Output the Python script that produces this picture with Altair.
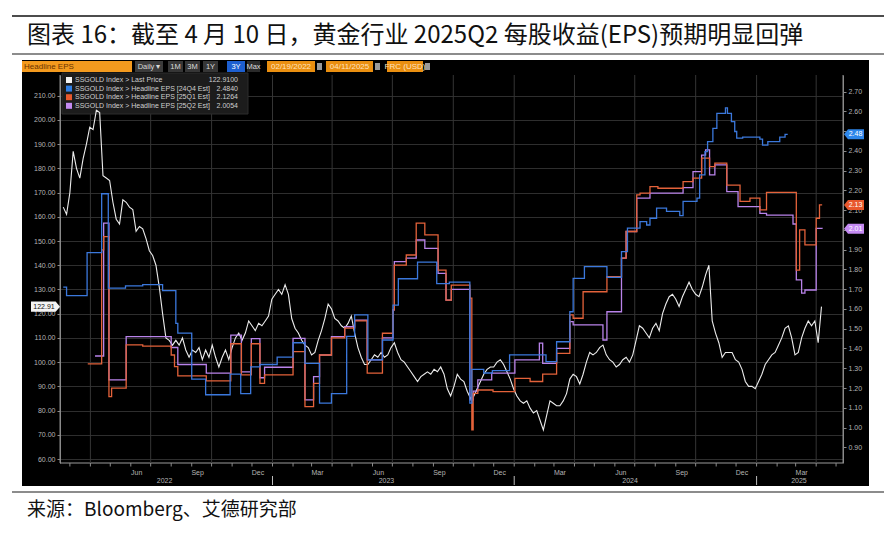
import altair as alt
import pandas as pd

# ---------------- data ----------------
TITLE = "图表 16：截至 4 月 10 日，黄金行业 2025Q2 每股收益(EPS)预期明显回弹"
SOURCE = "来源：Bloomberg、艾德研究部"

# SSGOLD Index last price, read every 5 days from 2022-02-19
price_values = [
    164, 161, 170, 187, 180, 176, 184, 190, 197, 196, 204, 203, 177, 176, 175, 166, 159, 157, 167, 166,
    164, 163, 154, 156, 155, 151, 146, 144, 140, 131, 120, 110, 109, 107, 109, 107, 110, 105, 102, 105,
    104, 106, 101, 105, 102, 107, 102, 98, 102, 105, 101, 106, 110, 112, 109, 112, 117, 115, 113, 116,
    115, 117, 119, 126, 128, 130, 128, 132, 128,
    118, 114, 112, 109, 107, 106, 103, 104, 109, 113, 118, 124, 122, 118, 117, 115, 114, 116, 119, 112,
    106, 102, 99, 99, 101, 103, 102, 104, 102, 103, 106, 108, 104, 101, 100, 98, 96, 94, 92, 94,
    95, 96, 95, 97, 96, 98, 95, 89, 86, 90, 95, 93, 92, 88, 85, 86, 89, 92, 95, 97,
    98, 98, 100, 101, 99, 96, 93, 89, 86, 84, 83, 84, 81, 79, 80, 76, 72, 78, 84, 83, 82,
    82, 84, 87, 93, 95, 94, 91, 95, 100, 104, 103, 104, 106, 107, 103, 101, 100, 98, 99, 101,
    102, 100, 103, 109, 115, 114, 112, 110, 114, 116, 113, 120, 124, 127, 128, 126, 123, 127, 130, 133,
    130, 128, 127, 131, 136, 140, 117, 112, 108, 102, 104, 104, 104, 101, 100, 97, 92, 90, 90, 89,
    92, 95, 99, 101, 103, 104, 107, 110, 114, 115, 110, 103, 104, 110, 114, 117, 115, 117, 108, 122.91,
]
price_dates = pd.date_range("2022-02-19", periods=len(price_values), freq="5D")

# Headline EPS [24Q4 Est]
blue_dates = [
    "2022-02-19", "2022-02-24", "2022-03-27", "2022-04-18", "2022-04-28", "2022-05-24", "2022-06-19",
    "2022-07-19", "2022-08-08", "2022-08-11", "2022-09-01", "2022-09-22", "2022-10-29", "2022-11-14",
    "2022-11-29", "2022-12-13", "2023-01-08", "2023-02-01", "2023-02-19", "2023-03-13", "2023-03-31",
    "2023-04-23", "2023-05-05", "2023-05-25", "2023-06-16", "2023-07-02", "2023-07-10", "2023-08-08",
    "2023-09-06", "2023-09-25", "2023-10-26", "2023-10-29", "2023-11-16", "2023-11-29", "2023-12-25",
    "2024-02-18", "2024-03-05", "2024-03-25", "2024-03-30", "2024-04-16", "2024-05-20", "2024-06-11",
    "2024-06-20", "2024-07-09", "2024-07-19", "2024-07-24", "2024-08-03", "2024-08-18", "2024-09-07",
    "2024-09-12", "2024-10-03", "2024-10-07", "2024-10-15", "2024-10-19", "2024-10-27", "2024-11-02",
    "2024-11-15", "2024-11-18", "2024-11-24", "2024-11-29", "2024-12-02", "2024-12-11", "2025-01-06",
    "2025-01-10", "2025-01-18", "2025-02-05", "2025-02-13", "2025-02-17",
]
blue_values = [
    1.711, 1.668, 1.885, 2.183, 1.705, 1.717, 1.723, 1.693, 1.527, 1.478, 1.245, 1.166, 1.270, 1.172,
    1.307, 1.319, 1.356, 1.429, 1.325, 1.123, 1.172, 1.461, 1.570, 1.342, 1.443, 1.619, 1.753, 1.837,
    1.728, 1.736, 1.123, 1.294, 1.276, 1.288, 1.368, 1.334, 1.434, 1.586, 1.755, 1.814, 1.760, 1.890,
    2.009, 2.042, 2.025, 2.059, 2.110, 2.094, 2.072, 2.144, 2.161, 2.279, 2.396, 2.447, 2.514, 2.590,
    2.618, 2.590, 2.548, 2.498, 2.465, 2.470, 2.459, 2.429, 2.447, 2.470, 2.484, 2.484,
]

# Headline EPS [25Q1 Est]
orange_dates = [
    "2022-03-28", "2022-04-18", "2022-04-21", "2022-04-29", "2022-05-03", "2022-05-25", "2022-06-19",
    "2022-08-01", "2022-08-06", "2022-08-11", "2022-09-23", "2022-10-30", "2022-11-15", "2022-11-30",
    "2022-12-13", "2022-12-20", "2023-02-01", "2023-02-19", "2023-03-04", "2023-03-13", "2023-03-31",
    "2023-04-20", "2023-05-05", "2023-05-24", "2023-06-16", "2023-07-02", "2023-07-04", "2023-07-22",
    "2023-08-06", "2023-08-19", "2023-09-08", "2023-09-20", "2023-09-28", "2023-10-26", "2023-10-29",
    "2023-10-31", "2023-11-07", "2023-11-30", "2024-01-02", "2024-01-25", "2024-02-13", "2024-03-05",
    "2024-03-25", "2024-03-30", "2024-04-14", "2024-05-20", "2024-06-11", "2024-06-18", "2024-07-04",
    "2024-07-09", "2024-07-24", "2024-08-05", "2024-09-12", "2024-09-27", "2024-10-10", "2024-10-22",
    "2024-10-30", "2024-11-17", "2024-12-07", "2024-12-22", "2025-01-06", "2025-01-16", "2025-03-02",
    "2025-03-07", "2025-03-15", "2025-04-01", "2025-04-06", "2025-04-10",
]
orange_values = [
    1.322, 1.899, 1.966, 1.156, 1.199, 1.418, 1.412, 1.367, 1.308, 1.261, 1.236, 1.424, 1.266, 1.424,
    1.223, 1.266, 1.384, 1.106, 1.223, 1.367, 1.454, 1.503, 1.540, 1.275, 1.477, 1.595, 1.822, 1.873,
    2.034, 1.975, 1.797, 1.645, 1.721, 1.655, 0.988, 1.173, 1.190, 1.182, 1.249, 1.233, 1.270, 1.375,
    1.570, 1.553, 1.687, 1.764, 1.857, 1.992, 2.177, 2.186, 2.219, 2.211, 2.244, 2.262, 2.363, 2.320,
    2.338, 2.227, 2.144, 2.161, 2.101, 2.190, 1.797, 2.000, 1.924, 2.059, 2.1264, 2.1264,
]

# Headline EPS [25Q2 Est]
purple_dates = [
    "2022-04-08", "2022-04-21", "2022-04-29", "2022-05-25", "2022-08-01", "2022-08-11", "2022-09-23",
    "2022-10-30", "2022-11-15", "2022-11-30", "2022-12-13", "2022-12-20", "2023-02-01", "2023-02-19",
    "2023-03-04", "2023-03-13", "2023-03-31", "2023-04-20", "2023-05-05", "2023-05-24", "2023-06-16",
    "2023-07-02", "2023-07-04", "2023-07-22", "2023-08-06", "2023-08-19", "2023-09-08", "2023-09-20",
    "2023-09-28", "2023-10-26", "2023-10-31", "2023-11-07", "2023-11-28", "2024-01-02", "2024-02-08",
    "2024-02-13", "2024-03-05", "2024-03-25", "2024-03-30", "2024-05-14", "2024-05-20", "2024-06-11",
    "2024-06-18", "2024-07-04", "2024-07-24", "2024-09-12", "2024-09-27", "2024-10-10", "2024-10-16",
    "2024-10-22", "2024-10-30", "2024-11-17", "2024-12-04", "2025-01-06", "2025-01-16", "2025-02-25",
    "2025-03-02", "2025-03-10", "2025-03-15", "2025-04-01", "2025-04-10",
]
purple_values = [
    1.362, 2.034, 1.241, 1.460, 1.405, 1.319, 1.275, 1.468, 1.282, 1.450, 1.252, 1.305, 1.451, 1.140,
    1.258, 1.367, 1.460, 1.510, 1.544, 1.342, 1.454, 1.595, 1.840, 1.857, 1.949, 1.907, 1.780, 1.645,
    1.699, 1.140, 1.184, 1.241, 1.275, 1.342, 1.427, 1.325, 1.401, 1.536, 1.519, 1.443, 1.586, 1.857,
    1.992, 2.161, 2.186, 2.214, 2.295, 2.379, 2.405, 2.279, 2.329, 2.194, 2.118, 2.084, 2.075, 2.030,
    1.747, 1.680, 1.696, 2.008, 2.0054,
]

left_ticks = list(range(60, 211, 10))
right_ticks = [round(0.9 + 0.1 * i, 2) for i in range(19)]
month_label_dates = ["2022-06-10", "2022-09-10", "2022-12-10", "2023-03-10", "2023-06-10", "2023-09-10",
                     "2023-12-10", "2024-03-10", "2024-06-10", "2024-09-10", "2024-12-10", "2025-03-10"]
month_labels = ["Jun", "Sep", "Dec", "Mar", "Jun", "Sep", "Dec", "Mar", "Jun", "Sep", "Dec", "Mar"]
year_labels = ["2022", "2023", "2024", "2025"]
year_label_dates = ["2022-07-22", "2023-06-22", "2024-06-24", "2025-03-06"]
year_break_dates = ["2023-01-01", "2024-01-01", "2025-01-01"]
quarter_dates = pd.date_range("2022-04-01", "2025-04-01", freq="QS")
month_dates = pd.date_range("2022-03-01", "2025-05-01", freq="MS")

legend_labels = ["SSGOLD Index > Last Price", "SSGOLD Index > Headline EPS [24Q4 Est]",
                 "SSGOLD Index > Headline EPS [25Q1 Est]", "SSGOLD Index > Headline EPS [25Q2 Est]"]
legend_values = ["122.9100", "2.4840", "2.1264", "2.0054"]
line_colors = ["#ececec", "#3b78dc", "#e4623a", "#b983ea"]
legend_colors = ["#f4f4f4", "#2f7fe6", "#e8582c", "#c48af2"]

tag_eps = [2.484, 2.1264, 2.0054]
tag_text = ["2.48", "2.13", "2.01"]
tag_colors = ["#2e86ea", "#e8582c", "#c48af2"]
last_price = 122.91
last_price_text = "122.91"

toolbar_buttons = [("1M", 108, 123, "#363636", "#dddddd"), ("3M", 125, 140, "#363636", "#dddddd"),
                   ("1Y", 143, 158, "#363636", "#dddddd"), ("3Y", 167, 185, "#1d5fd0", "#ffffff"),
                   ("Max", 187, 200, "#2a2a2a", "#dddddd")]
toolbar_fields = [("02/19/2022", 207, 255), ("04/11/2025", 266, 313), ("FRC (USD)", 327, 363)]

# ---------------- helpers ----------------
ONE = pd.DataFrame({"k": [0]})
FONT = "Liberation Sans"
CJK = "Noto Sans CJK SC"
AXC = "#8a8a8a"
LBC = "#b4b4b4"


def box(x1, x2, y1, y2, fill, stroke=None):
    if stroke is None:
        m = alt.Chart(ONE).mark_rect(color=fill)
    else:
        m = alt.Chart(ONE).mark_rect(fill=fill, stroke=stroke, strokeWidth=1)
    return m.encode(x=alt.value(x1), x2=alt.value(x2), y=alt.value(y1), y2=alt.value(y2))


def hline(x1, x2, y, color, w):
    return alt.Chart(ONE).mark_rule(color=color, strokeWidth=w).encode(
        x=alt.value(x1), x2=alt.value(x2), y=alt.value(y))


def vline(x, y1, y2, color, w):
    return alt.Chart(ONE).mark_rule(color=color, strokeWidth=w).encode(
        x=alt.value(x), y=alt.value(y1), y2=alt.value(y2))


def txt(x, y, s, size, color, align="left", font=FONT, weight="normal"):
    return alt.Chart(ONE).mark_text(text=s, fontSize=size, color=color, align=align,
                                    baseline="middle", font=font, fontWeight=weight).encode(
        x=alt.value(x), y=alt.value(y))


XS = alt.Scale(domain=[alt.DateTime(year=2022, month=2, date=14, hours=2),
                       alt.DateTime(year=2025, month=5, date=11, hours=12)], nice=False)
YL = alt.Scale(domain=[58.35, 218.55], nice=False, zero=False)
YR = alt.Scale(domain=[0.8205, 2.784], nice=False, zero=False)

LAXIS = alt.Axis(orient="left", values=left_ticks, format=".2f", title=None, grid=True,
                 gridColor="#2e2e2e", gridWidth=1, domainColor=AXC, tickColor=AXC,
                 tickSize=3, labelColor=LBC, labelFont=FONT, labelFontSize=7, labelPadding=2)
# labels hidden behind the last-value tags (2.50 and 2.00) are left blank
RAXIS = alt.Axis(orient="right", values=right_ticks, title=None, grid=False,
                 labelExpr="(abs(datum.value - 2.5) < 0.001 || abs(datum.value - 2.0) < 0.001) ? '' : format(datum.value, '.2f')",
                 domainColor=AXC, tickColor=AXC, tickSize=3, labelColor=LBC,
                 labelFont=FONT, labelFontSize=7, labelPadding=2)

X = lambda f: alt.X(f, scale=XS, axis=None)

layers = [
    box(-52, 824, -67, -15, "white"),
    box(-52, 824, 411, 458, "white"),
    box(-52, -38, -15, 411, "white"),
    box(809, 824, -15, 411, "white"),
    box(-48, 824, -59.7, -58.3, "#111111"),
    hline(-48, 824, -21, "#8c8c8c", 2),
    hline(-48, 824, 417, "#8c8c8c", 2),
    txt(-33, -39, TITLE, 24, "#111111", font=CJK),
    txt(-33, 435, SOURCE, 19, "#111111", font=CJK),
    box(-38, 72, -14, -3, "#f39a1e"),
    txt(-36, -8.5, "Headline EPS", 8, "#6a3300"),
    box(75, 103, -14, -3, "#3b3b3b"),
    txt(89, -8.5, "Daily ▾", 7.5, "#d8d8d8", align="center"),
]
for lbl, x1, x2, fill, col in toolbar_buttons:
    layers.append(box(x1, x2, -14, -3, fill))
    layers.append(txt((x1 + x2) / 2, -8.5, lbl, 7.5, col, align="center"))
for lbl, x1, x2 in toolbar_fields:
    layers.append(box(x1, x2, -14, -3, "#ea8f10"))
    layers.append(txt((x1 + x2) / 2, -8.5, lbl, 8, "#ffe2bf", align="center"))
    layers.append(box(x2 + 2, x2 + 7, -12, -5, "#9a9a9a"))

# axis lines (left, right, bottom)
layers += [
    vline(0, 0, 388, AXC, 1),
    vline(783, 0, 388, AXC, 1),
    hline(0, 783, 388, "#9a9a9a", 1),
]

qdf = pd.DataFrame({"d": quarter_dates})
mdf = pd.DataFrame({"d": month_dates})
mldf = pd.DataFrame({"d": pd.to_datetime(month_label_dates), "t": month_labels})
ydf = pd.DataFrame({"d": pd.to_datetime(year_label_dates), "t": year_labels})
bdf = pd.DataFrame({"d": pd.to_datetime(year_break_dates)})

layers += [
    alt.Chart(qdf).mark_rule(color="#353535", strokeWidth=1).encode(x=X("d:T")),
    alt.Chart(mdf).mark_rule(color=AXC, strokeWidth=1).encode(
        x=X("d:T"), y=alt.value(388), y2=alt.value(391.5)),
    alt.Chart(bdf).mark_rule(color="#bbbbbb", strokeWidth=1).encode(
        x=X("d:T"), y=alt.value(401), y2=alt.value(410)),
    alt.Chart(mldf).mark_text(fontSize=7, color=LBC, font=FONT, baseline="middle").encode(
        x=X("d:T"), y=alt.value(398), text="t:N"),
    alt.Chart(ydf).mark_text(fontSize=7, color=LBC, font=FONT, baseline="middle").encode(
        x=X("d:T"), y=alt.value(406), text="t:N"),
]

# legend box
layers.append(box(2, 188, -2, 39, "#1c1c1c", stroke="#2c2c2c"))
for i, (lab, val, col) in enumerate(zip(legend_labels, legend_values, legend_colors)):
    yy = 5 + i * 8.6
    layers.append(box(6, 12, yy - 3, yy + 3, col))
    layers.append(txt(15, yy, lab, 7, "#cfcfcf"))
    layers.append(txt(178, yy, val, 7, "#cfcfcf", align="right"))


def eps_line(dates, values, color, axis):
    df = pd.DataFrame({"date": pd.to_datetime(dates), "eps": values})
    return alt.Chart(df).mark_line(interpolate="step-after", color=color, strokeWidth=1.3).encode(
        x=X("date:T"), y=alt.Y("eps:Q", scale=YR, axis=axis))


tag_df = pd.DataFrame({"eps": tag_eps, "t": tag_text, "c": tag_colors})
RIGHT_TAG = "M-1,0L-0.6,-0.5L1,-0.5L1,0.5L-0.6,0.5Z"
LEFT_TAG = "M-1,-0.36L0.7,-0.36L1,0L0.7,0.36L-1,0.36Z"
price_df = pd.DataFrame({"date": price_dates, "price": price_values})
ptag_df = pd.DataFrame({"price": [last_price], "t": [last_price_text]})

layers += [
    alt.Chart(price_df).mark_line(color=line_colors[0], strokeWidth=1.1).encode(
        x=X("date:T"), y=alt.Y("price:Q", scale=YL, axis=LAXIS)),
    eps_line(purple_dates, purple_values, line_colors[3], RAXIS),
    eps_line(orange_dates, orange_values, line_colors[2], None),
    eps_line(blue_dates, blue_values, line_colors[1], None),
    alt.Chart(tag_df).mark_point(shape=RIGHT_TAG, filled=True, size=400, opacity=1, strokeWidth=0).encode(
        x=alt.value(794), y=alt.Y("eps:Q", scale=YR, axis=None), color=alt.Color("c:N", scale=None)),
    alt.Chart(tag_df).mark_text(fontSize=7, color="white", font=FONT, align="center", baseline="middle").encode(
        x=alt.value(795.5), y=alt.Y("eps:Q", scale=YR, axis=None), text="t:N"),
    alt.Chart(ptag_df).mark_point(shape=LEFT_TAG, filled=True, size=841, opacity=1, strokeWidth=0,
                                  color="#f4f4f4").encode(
        x=alt.value(-14.5), y=alt.Y("price:Q", scale=YL, axis=None)),
    alt.Chart(ptag_df).mark_text(fontSize=7, color="#111111", font=FONT, align="center",
                                 baseline="middle").encode(
        x=alt.value(-16), y=alt.Y("price:Q", scale=YL, axis=None), text="t:N"),
]

chart = alt.layer(*layers).resolve_scale(y="independent").properties(
    width=783, height=388,
    padding={"left": 52, "top": 67, "right": 41, "bottom": 70},
    autosize=alt.AutoSizeParams(type="none"),
    background="black",
).configure_view(strokeWidth=0)

chart.save("out.html", embed_options={"renderer": "svg", "actions": False})
